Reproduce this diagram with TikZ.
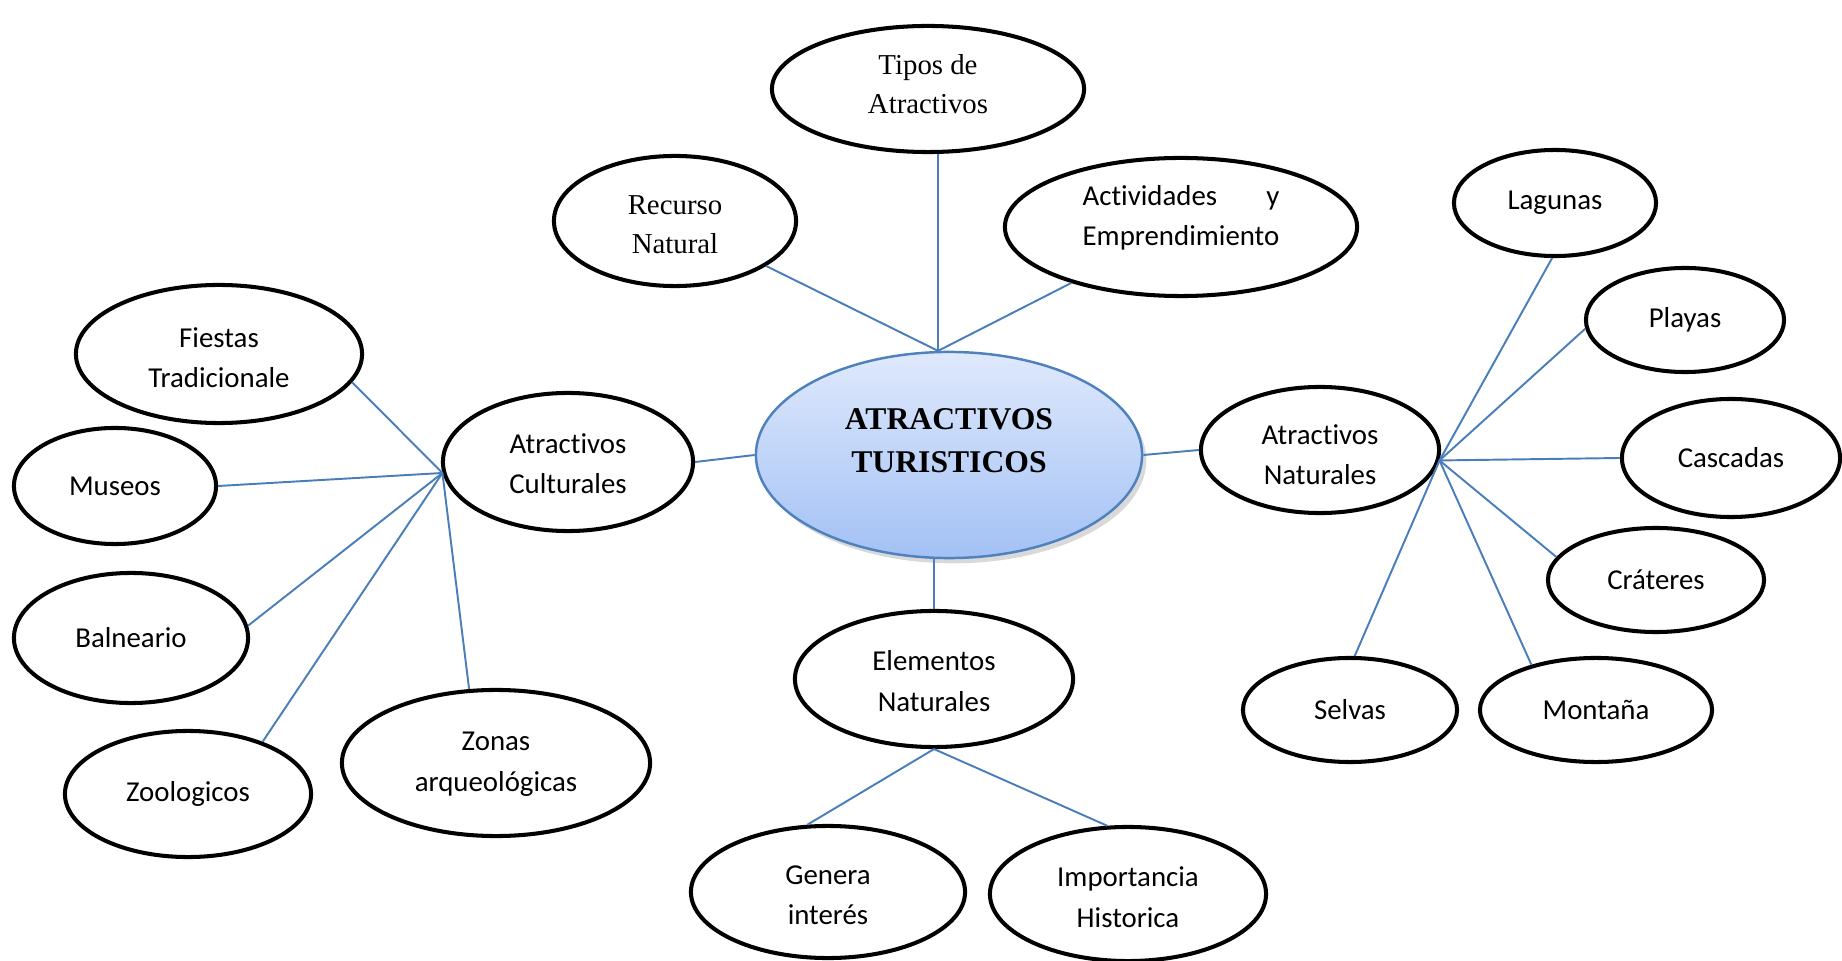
\documentclass[tikz,border=0pt]{standalone}
\usepackage{fontspec}
\setmainfont{Liberation Serif}
\newfontfamily\calfont[Ligatures=NoCommon]{Carlito}
\usetikzlibrary{shapes.geometric,shadows}
\definecolor{mapLine}{RGB}{74,126,187}
\definecolor{mapEdge}{RGB}{79,129,189}
\definecolor{mapTop}{RGB}{223,233,252}
\definecolor{mapBot}{RGB}{163,193,245}
% two lines of text, lowered or raised by #1
\newcommand{\pair}[3][0pt]{\raisebox{#1}[\height][\depth]{\begin{tabular}{@{}c@{}}#2\\#3\end{tabular}}}

\begin{document}
\begin{tikzpicture}[x=0.01cm,y=-0.01cm,
    oval/.style={ellipse,draw=black,line width=1.15pt,inner sep=0pt,align=center,
                 font=\calfont\fontsize{8.2}{11.5}\selectfont},
    rom/.style={font=\fontsize{8.2}{11}\selectfont},
    hub/.style={ellipse,draw=mapEdge,line width=0.7pt,top color=mapTop,bottom color=mapBot,
                drop shadow={shadow xshift=1.2pt,shadow yshift=-1.5pt,opacity=0.3}},
    link/.style={draw=mapLine,line width=0.55pt}]
  \useasboundingbox (0,0) rectangle (1842,961);

  % Center
  \node[hub,minimum width=3.86cm,minimum height=2.06cm] (cen) at (949,455) {};
  \node[align=center,font=\bfseries\fontsize{9}{12.3}\selectfont] (cent) at (949,441)
    {ATRACTIVOS\\TURISTICOS};

  % Top
  \node[oval,rom,minimum width=3.12cm,minimum height=1.26cm] (tip) at (928,89) {\pair[0.7pt]{Tipos de}{Atractivos}};
  \node[oval,rom,minimum width=2.42cm,minimum height=1.30cm] (rec) at (675,221) {\pair[-1.5pt]{Recurso}{Natural}};
  \node[oval,minimum width=3.52cm,minimum height=1.38cm] (act) at (1181,227)
    {\raisebox{2.8pt}[\height][\depth]{\begin{tabular}{@{}l@{}}Actividades\hfill y\\Emprendimiento\end{tabular}}};
  \draw[link] (cen.96) -- (cen.96 |- tip.south);
  \draw[link] (rec) -- (cen.96);
  \draw[link] (act) -- (cen.96);

  % Culturales
  \node[oval,minimum width=2.50cm,minimum height=1.38cm] (cul) at (568,462) {\pair[-1pt]{Atractivos}{Culturales}};
  \node[oval,minimum width=2.86cm,minimum height=1.38cm] (fie) at (219,354) {\pair[-1.6pt]{Fiestas}{Tradicionale}};
  \node[oval,minimum width=2.02cm,minimum height=1.16cm] (mus) at (115,486) {Museos};
  \node[oval,minimum width=2.34cm,minimum height=1.30cm] (bal) at (131,638) {Balneario};
  \node[oval,minimum width=2.46cm,minimum height=1.26cm] (zoo) at (188,794) {Zoologicos};
  \node[oval,minimum width=3.08cm,minimum height=1.46cm] (zon) at (496,763) {\pair{Zonas}{arqueológicas}};
  \draw[link] (cen.west) -- (cul.east);
  \foreach \k/\a in {fie/-12,mus/0,bal/6,zoo/35,zon/110}
    \draw[link] (cul.185) -- (\k.\a);

  % Elementos
  \node[oval,minimum width=2.78cm,minimum height=1.36cm] (ele) at (934,679) {\pair[-1.1pt]{Elementos}{Naturales}};
  \node[oval,minimum width=2.74cm,minimum height=1.32cm] (gen) at (828,892) {\pair[-1.2pt]{Genera}{interés}};
  \node[oval,minimum width=2.76cm,minimum height=1.34cm] (imp) at (1128,894) {\pair[-1.4pt]{Importancia}{Historica}};
  \draw[link] (ele.north) -- (ele.north |- cen.south);
  \draw[link] (ele.south) -- (gen.107);
  \draw[link] (ele.south) -- (imp.107);

  % Naturales
  \node[oval,minimum width=2.38cm,minimum height=1.26cm] (nat) at (1320,450) {\pair[-1.9pt]{Atractivos}{Naturales}};
  \node[oval,minimum width=2.02cm,minimum height=1.06cm] (lag) at (1555,203) {Lagunas};
  \node[oval,minimum width=1.98cm,minimum height=1.04cm] (pla) at (1685,320) {Playas};
  \node[oval,minimum width=2.18cm,minimum height=1.18cm] (cas) at (1731,458) {Cascadas};
  \node[oval,minimum width=2.16cm,minimum height=1.04cm] (cra) at (1656,580) {Cráteres};
  \node[oval,minimum width=2.14cm,minimum height=1.04cm] (sel) at (1350,710) {Selvas};
  \node[oval,minimum width=2.32cm,minimum height=1.04cm] (mon) at (1596,710) {Montaña};
  \draw[link] (cen.east) -- (nat.west);
  \foreach \k/\a in {lag/-93,pla/185,cas/180,cra/167,mon/145,sel/85}
    \draw[link] (nat.-5) -- (\k.\a);
\end{tikzpicture}
\end{document}
